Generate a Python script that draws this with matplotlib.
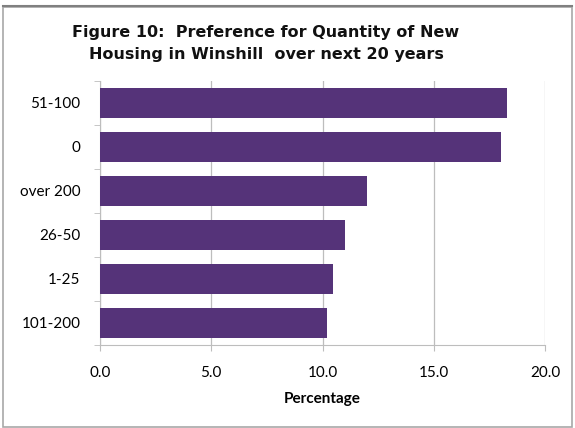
import numpy as np
import matplotlib.pyplot as plt
from matplotlib.patches import Rectangle

# opciones de cantidad de viviendas y porcentaje de respuestas
categorias = ["51-100", "0", "over 200", "26-50", "1-25", "101-200"]
porcentajes = [18.3, 18.0, 12.0, 11.0, 10.45, 10.2]
ticks_x = [0.0, 5.0, 10.0, 15.0, 20.0]

plt.rcParams['font.family'] = ['Lato', 'DejaVu Sans']

fig = plt.figure(figsize=(5.75, 4.28), dpi=100)
ax = fig.add_axes([100/575, 1-345/428, 445/575, 264/428])

# marco exterior del grafico
fig.patches.append(Rectangle((3/575, 1.5/428), 569/575, 420/428, transform=fig.transFigure,
                             fill=False, edgecolor='#a8a8a8', linewidth=1.2))
fig.lines.append(plt.Line2D([3/575, 572/575], [1-6/428, 1-6/428], transform=fig.transFigure,
                            color='#808080', linewidth=1.5))

y = np.arange(len(categorias))
ax.barh(y, porcentajes, height=0.68, color='#553379', zorder=3)

ax.set_ylim(len(categorias)-0.5, -0.5)
ax.set_xlim(0, 20)
ax.set_xticks(ticks_x)
ax.set_xticklabels([f"{t:.1f}" for t in ticks_x], fontsize=11)
ax.set_yticks(y)
ax.set_yticklabels(categorias, fontsize=11)
ax.set_yticks(np.arange(-0.5, len(categorias), 1), minor=True)

ax.grid(axis='x', color='#bdbdbd', linewidth=0.9, zorder=0)
for s in ['top', 'right']:
    ax.spines[s].set_visible(False)
ax.spines['left'].set_color('#bdbdbd')
ax.spines['bottom'].set_color('#bdbdbd')
ax.tick_params(axis='y', which='major', length=0, pad=14)
ax.tick_params(axis='y', which='minor', length=4, color='#bdbdbd')
ax.tick_params(axis='x', length=4, color='#bdbdbd', pad=11)

ax.set_xlabel("Percentage", fontsize=11, fontweight='bold', labelpad=9)

fig.text(266/575, 1-33/428, "Figure 10:  Preference for Quantity of New", ha='center', va='center',
         fontsize=11.5, fontweight='bold', family='DejaVu Sans', color='#111111')
fig.text(266/575, 1-55/428, "Housing in Winshill  over next 20 years", ha='center', va='center',
         fontsize=11.5, fontweight='bold', family='DejaVu Sans', color='#111111')

fig.savefig("out.png", dpi=100)
